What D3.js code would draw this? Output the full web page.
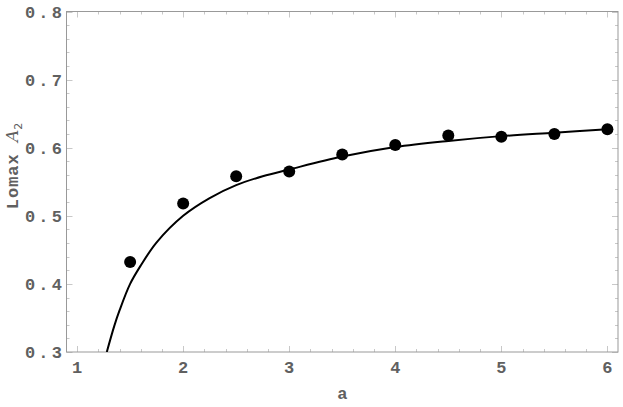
<!DOCTYPE html>
<html><head><meta charset="utf-8">
<script src="https://cdn.jsdelivr.net/npm/d3@7"></script>
<style>body{margin:0;background:#fff}</style>
</head><body>
<script>
// Data
const pointA = [1.5, 2, 2.5, 3, 3.5, 4, 4.5, 5, 5.5, 6];
const pointV = [0.432, 0.518, 0.558, 0.565, 0.590, 0.604, 0.618, 0.616, 0.620, 0.627];
const curveA = [1.28, 1.35, 1.4, 1.5, 1.6, 1.75, 2.0, 2.25, 2.5, 2.75, 3.0, 3.5, 4.0, 4.5, 5.0, 5.5, 6.0];
const curveV = [0.300, 0.338, 0.361, 0.400, 0.427, 0.461, 0.500, 0.526, 0.545, 0.558, 0.568, 0.587, 0.601, 0.610, 0.617, 0.622, 0.627];
const xTicks = [1, 2, 3, 4, 5, 6];
const yTicks = [0.3, 0.4, 0.5, 0.6, 0.7, 0.8];

const W = 623, H = 407;
const L = 66.5, R = 618, T = 11.5, B = 352;
const svg = d3.select("body").append("svg").attr("width", W).attr("height", H);
const x = d3.scaleLinear().domain([0.9, 6.1]).range([L, R]);
const y = d3.scaleLinear().domain([0.3, 0.8]).range([B, T]);

const tickCol = "#c8c8c8";
const xMinor = d3.range(1, 6.11, 0.2);
const yMinor = d3.range(0.3, 0.801, 0.02);
const tg = svg.append("g").attr("stroke", tickCol).attr("stroke-width", 1);
xMinor.forEach(v => {
  const major = Math.abs(v - Math.round(v)) < 1e-6;
  const len = major ? 6 : 3;
  const px = Math.round(x(v)) + 0.5;
  tg.append("line").attr("x1", px).attr("x2", px).attr("y1", B).attr("y2", B - len);
  tg.append("line").attr("x1", px).attr("x2", px).attr("y1", T).attr("y2", T + len);
});
yMinor.forEach(v => {
  const major = Math.abs(v * 10 - Math.round(v * 10)) < 1e-6;
  const len = major ? 6 : 3;
  const py = Math.round(y(v)) + 0.5;
  tg.append("line").attr("y1", py).attr("y2", py).attr("x1", L).attr("x2", L + len);
  tg.append("line").attr("y1", py).attr("y2", py).attr("x1", R).attr("x2", R - len);
});

svg.append("rect").attr("x", L).attr("y", T).attr("width", R - L).attr("height", B - T)
  .attr("fill", "none").attr("stroke", "#999").attr("stroke-width", 1);

svg.append("clipPath").attr("id", "clip").append("rect")
  .attr("x", L).attr("y", T).attr("width", R - L).attr("height", B - T);

const line = d3.line().x((d, i) => x(curveA[i])).y(d => y(d)).curve(d3.curveCatmullRom);
svg.append("path").attr("clip-path", "url(#clip)").attr("d", line(curveV))
  .attr("fill", "none").attr("stroke", "#000").attr("stroke-width", 2);

svg.append("g").selectAll("circle").data(pointV).join("circle")
  .attr("cx", (d, i) => x(pointA[i])).attr("cy", d => y(d)).attr("r", 6).attr("fill", "#000");

const font = "'Liberation Mono', 'DejaVu Sans Mono', monospace";
const labCol = "#606060";
svg.append("g").selectAll("text").data(yTicks).join("text")
  .attr("x", 62).attr("y", d => y(d) + 6)
  .attr("text-anchor", "end").attr("font-family", font).attr("font-weight", "bold")
  .attr("font-size", 17).attr("fill", labCol).attr("letter-spacing", "3.2px")
  .attr("dx", 3.2)
  .text(d => d3.format(".1f")(d));
svg.append("g").selectAll("text").data(xTicks).join("text")
  .attr("x", d => x(d)).attr("y", 373)
  .attr("text-anchor", "middle").attr("font-family", font).attr("font-weight", "bold")
  .attr("font-size", 17).attr("fill", labCol)
  .text(d => d);
svg.append("text").attr("x", (L + R) / 2).attr("y", 399).attr("text-anchor", "middle")
  .attr("font-family", font).attr("font-weight", "bold").attr("font-size", 17).attr("fill", labCol)
  .text("a");
const yl = svg.append("text").attr("transform", `translate(18,166) rotate(-90)`)
  .attr("text-anchor", "middle").attr("fill", labCol);
yl.append("tspan").attr("font-family", font).attr("font-weight", "bold").attr("font-size", 17)
  .attr("letter-spacing", "1px").text("Lomax\u00a0");
yl.append("tspan").attr("font-family", "'DejaVu Serif', serif").attr("font-style", "italic").attr("font-size", 17).text("A");
yl.append("tspan").attr("font-size", 11).attr("dy", 4).attr("font-family", "'DejaVu Sans', sans-serif").text("2");
</script>
</body></html>
